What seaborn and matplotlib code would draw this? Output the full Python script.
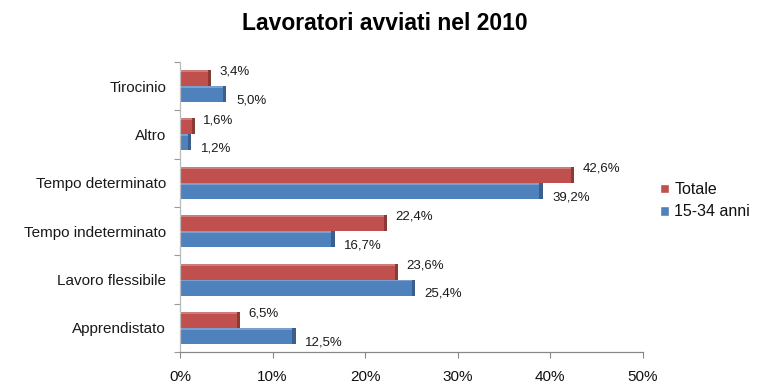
import matplotlib
matplotlib.use("Agg")
import matplotlib.pyplot as plt
from matplotlib.patches import Rectangle
from matplotlib.ticker import FuncFormatter, FixedLocator
import seaborn as sns
import pandas as pd

categories = ["Tirocinio", "Altro", "Tempo determinato", "Tempo indeterminato",
              "Lavoro flessibile", "Apprendistato"]
series_names = ["Totale", "15-34 anni"]
totale = [3.4, 1.6, 42.6, 22.4, 23.6, 6.5]
giovani = [5.0, 1.2, 39.2, 16.7, 25.4, 12.5]
x_ticks = [0, 10, 20, 30, 40, 50]
title = "Lavoratori avviati nel 2010"

colors = {"Totale": "#C0504D", "15-34 anni": "#4F81BD"}
dark = {"Totale": "#8C3A37", "15-34 anni": "#3A5F8C"}

df = pd.DataFrame({
    "categoria": categories * 2,
    "serie": [series_names[0]] * len(categories) + [series_names[1]] * len(categories),
    "valore": totale + giovani,
})

sns.set_theme(style="white")
plt.rcParams["font.family"] = ["Liberation Sans", "DejaVu Sans"]

fig = plt.figure(figsize=(7.66, 3.84), dpi=100)
ax = fig.add_axes([0.235, 0.083, 0.604, 0.756])

sns.barplot(data=df, y="categoria", x="valore", hue="serie", order=categories,
            hue_order=series_names, palette=colors, width=0.66, orient="h",
            ax=ax, saturation=1, edgecolor="none", legend=False)

ax.set_xlim(0, 50)
ax.set_ylim(5.5, -0.5)

# darker end caps give the bars a slight depth effect
cap_w = 0.35
for container, name in zip(ax.containers, series_names):
    for bar in container:
        x0, y0 = bar.get_x(), bar.get_y()
        w, h = bar.get_width(), bar.get_height()
        ax.add_patch(Rectangle((x0 + w - cap_w, y0), cap_w, h,
                               facecolor=dark[name], edgecolor="none", zorder=3))
        ax.add_patch(Rectangle((x0, y0), w - cap_w, h * 0.12,
                               facecolor="white", alpha=0.25, edgecolor="none", zorder=3))

# value labels with comma decimals
offsets = {"Totale": (6, 4.5), "15-34 anni": (7, -4.5)}
for container, name, vals in zip(ax.containers, series_names, [totale, giovani]):
    for bar, v in zip(container, vals):
        dx, dy = offsets[name]
        ax.annotate(f"{v:.1f}%".replace(".", ","),
                    xy=(bar.get_x() + bar.get_width(), bar.get_y() + bar.get_height() / 2),
                    xytext=(dx, dy), textcoords="offset points",
                    ha="left", va="center", fontsize=9.5, color="#1a1a1a")

ax.set_xticks(x_ticks)
ax.xaxis.set_major_formatter(FuncFormatter(lambda v, p: f"{v:.0f}%"))
ax.tick_params(axis="x", length=4, width=0.8, color="#888888", labelsize=11,
               labelcolor="#111111", pad=9, bottom=True)
ax.tick_params(axis="y", which="major", length=0, labelsize=11, labelcolor="#1a1a1a", pad=10)
ax.yaxis.set_minor_locator(FixedLocator([i - 0.5 for i in range(len(categories) + 1)]))
ax.tick_params(axis="y", which="minor", length=4, width=0.8, color="#999999", left=True)
ax.set_xlabel("")
ax.set_ylabel("")

for side in ["top", "right"]:
    ax.spines[side].set_visible(False)
ax.spines["left"].set_color("#BBBBBB")
ax.spines["bottom"].set_color("#888888")
ax.spines["left"].set_linewidth(0.9)
ax.spines["bottom"].set_linewidth(0.9)

handles = [Rectangle((0, 0), 1, 1, facecolor=colors[n]) for n in series_names]
leg = fig.legend(handles, series_names, loc="center left", bbox_to_anchor=(0.843, 0.477),
                 frameon=False, fontsize=11.5, handlelength=0.55, handleheight=0.55,
                 handletextpad=0.35, labelspacing=0.45)
for t in leg.get_texts():
    t.set_color("#111111")

fig.text(0.503, 0.94, title, ha="center", va="center", fontsize=16.5, fontweight="bold",
         color="black")

fig.savefig("out.png", dpi=100)
